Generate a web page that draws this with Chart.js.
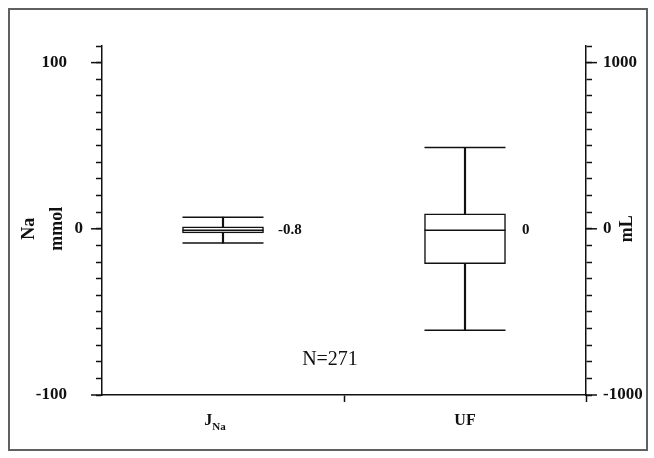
<!DOCTYPE html>
<html>
<head>
<meta charset="utf-8">
<script src="https://cdn.jsdelivr.net/npm/chart.js@4/dist/chart.umd.min.js"></script>
<style>
    body { margin: 0; background: #fff; }
    #wrap { position: relative; width: 654px; height: 458px; }
    #frame { position: absolute; left: 8px; top: 8px; width: 636px; height: 439px; border: 2px solid #606060; pointer-events: none; }
</style>
</head>
<body>
<div id="wrap">
    <canvas id="boxChart" width="654" height="458"></canvas>
    <div id="frame"></div>
</div>
<script>
// categories on the x axis
const categories = ['J_Na', 'UF'];
// tick label: main text + subscript
const tickMain = ['J', 'UF'];
const tickSub = ['Na', ''];

// box statistics: min, q1, median, q3, max
const jnaStats = [-8.6, -2.4, -0.8, 1.2, 7];     // mmol, left axis
const ufStats = [-610, -210, -8, 90, 490];       // mL, right axis
const medianLabels = ['-0.8', '0'];

// labelled ticks
const leftTicks = [-100, 0, 100];
const rightTicks = [-1000, 0, 1000];
const noteText = 'N=271';

const SERIF = '"Liberation Serif", "Times New Roman", serif';
const INK = '#111';

function boxDatasets(stats, cat, axis) {
    const idx = categories.indexOf(cat);
    const range = categories.map((_, i) => i === idx ? [stats[0], stats[4]] : null);
    const box = categories.map((_, i) => i === idx ? [stats[1], stats[3]] : null);
    return [
        {   // caps + median
            type: 'line',
            yAxisID: axis,
            order: 0,
            showLine: false,
            data: [stats[0], stats[4], stats[2]].map(v => ({ x: cat, y: v })),
            pointStyle: 'line',
            pointRadius: 40.5,
            pointHoverRadius: 40.5,
            pointBorderWidth: 1.5,
            pointBorderColor: INK
        },
        {   // box
            type: 'bar',
            yAxisID: axis,
            order: 1,
            grouped: false,
            data: box,
            barThickness: 81,
            backgroundColor: '#fff',
            borderColor: INK,
            borderWidth: 1.5,
            borderSkipped: false
        },
        {   // whisker stem
            type: 'bar',
            yAxisID: axis,
            order: 2,
            grouped: false,
            data: range,
            barThickness: 1.5,
            backgroundColor: INK,
            borderWidth: 0
        }
    ];
}

// major ticks longer, text labels, subscripts
const extrasPlugin = {
    id: 'extras',
    afterDraw(chart) {
        const ctx = chart.ctx;
        const x = chart.scales.x, y = chart.scales.y, y2 = chart.scales.y2;
        const midY = y.getPixelForValue(0);
        ctx.save();
        ctx.strokeStyle = INK;
        ctx.lineWidth = 1.5;
        leftTicks.forEach(v => {
            const py = y.getPixelForValue(v);
            ctx.beginPath(); ctx.moveTo(y.right - 11, py); ctx.lineTo(y.right, py); ctx.stroke();
        });
        rightTicks.forEach(v => {
            const py = y2.getPixelForValue(v);
            ctx.beginPath(); ctx.moveTo(y2.left, py); ctx.lineTo(y2.left + 11, py); ctx.stroke();
        });

        ctx.fillStyle = INK;

        // zero label on the left sits closer to the axis
        ctx.font = 'bold 17px ' + SERIF;
        ctx.textAlign = 'right';
        ctx.textBaseline = 'middle';
        ctx.fillText('0', y.right - 19, midY);

        // x tick labels
        ctx.textBaseline = 'alphabetic';
        ctx.textAlign = 'left';
        const shift = [-8, 0];
        categories.forEach((c, i) => {
            ctx.font = 'bold 16px ' + SERIF;
            const w1 = ctx.measureText(tickMain[i]).width;
            ctx.font = 'bold 11px ' + SERIF;
            const w2 = ctx.measureText(tickSub[i]).width;
            const cx = x.getPixelForValue(i) + shift[i];
            const sx = cx - (w1 + w2) / 2;
            const by = x.top + 30;
            ctx.font = 'bold 16px ' + SERIF;
            ctx.fillText(tickMain[i], sx, by);
            ctx.font = 'bold 11px ' + SERIF;
            ctx.fillText(tickSub[i], sx + w1, by + 5);
        });

        // median labels
        ctx.font = 'bold 15px ' + SERIF;
        ctx.textBaseline = 'middle';
        ctx.fillText(medianLabels[0], x.getPixelForValue(0) + 55, y.getPixelForValue(jnaStats[2]));
        ctx.fillText(medianLabels[1], x.getPixelForValue(1) + 57, y2.getPixelForValue(ufStats[2]));

        // N note
        ctx.font = '20px ' + SERIF;
        ctx.textAlign = 'center';
        ctx.fillText(noteText, (chart.chartArea.left + chart.chartArea.right) / 2 - 14, y.getPixelForValue(-79));

        // axis titles, read bottom to top
        ctx.font = 'bold 18px ' + SERIF;
        ctx.textAlign = 'center';
        [['Na', 29], ['mmol', 57], ['mL', y2.right - 27]].forEach(([t, px]) => {
            ctx.save();
            ctx.translate(px, midY);
            ctx.rotate(-Math.PI / 2);
            ctx.fillText(t, 0, 0);
            ctx.restore();
        });
        ctx.restore();
    }
};

new Chart(document.getElementById('boxChart'), {
    data: {
        labels: categories,
        datasets: [
            ...boxDatasets(jnaStats, 'J_Na', 'y'),
            ...boxDatasets(ufStats, 'UF', 'y2')
        ]
    },
    options: {
        responsive: false,
        animation: false,
        layout: { padding: { top: 46, left: 0, right: 0, bottom: 0 } },
        plugins: {
            legend: { display: false },
            tooltip: { enabled: false }
        },
        scales: {
            x: {
                type: 'category',
                offset: true,
                grid: {
                    offset: true,
                    drawOnChartArea: false,
                    tickLength: 7,
                    tickWidth: 1.5,
                    tickColor: c => c.index === 0 ? 'rgba(0,0,0,0)' : INK
                },
                border: { color: INK, width: 1.5 },
                ticks: { display: false },
                afterFit: s => { s.height = 63; }
            },
            y: {
                position: 'left',
                min: -100,
                max: 110,
                grid: { drawOnChartArea: false, tickLength: 6, tickWidth: 1.5, tickColor: INK },
                border: { color: INK, width: 1.5 },
                ticks: {
                    stepSize: 10,
                    autoSkip: false,
                    padding: 29,
                    color: INK,
                    font: { family: SERIF, size: 17, weight: 'bold' },
                    callback: v => (leftTicks.includes(v) && v !== 0) ? String(v) : ''
                },
                afterFit: s => { s.width = 102; }
            },
            y2: {
                position: 'right',
                min: -1000,
                max: 1100,
                grid: { drawOnChartArea: false, tickLength: 6, tickWidth: 1.5, tickColor: INK },
                border: { color: INK, width: 1.5 },
                ticks: {
                    stepSize: 100,
                    autoSkip: false,
                    padding: 11,
                    color: INK,
                    font: { family: SERIF, size: 17, weight: 'bold' },
                    callback: v => rightTicks.includes(v) ? String(v) : ''
                },
                afterFit: s => { s.width = 68; }
            }
        }
    },
    plugins: [extrasPlugin]
});
</script>
</body>
</html>
